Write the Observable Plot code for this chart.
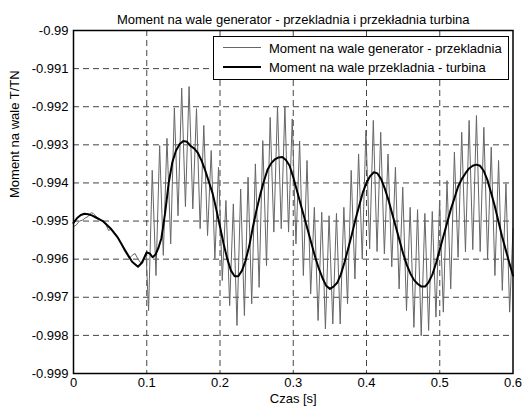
<!DOCTYPE html>
<html><head><meta charset="utf-8">
<script src="https://cdn.jsdelivr.net/npm/d3@7"></script>
<script src="https://cdn.jsdelivr.net/npm/@observablehq/plot@0.6"></script>
<style>
body{margin:0;background:#fff;}
#wrap{position:relative;width:523px;height:412px;font-family:Arial,"Liberation Sans",sans-serif;}
#legend{position:absolute;left:213px;top:36px;width:296px;height:44px;box-sizing:border-box;border:1px solid #000;background:#fff;font-size:13px;color:#000;}
.ls{position:absolute;left:9px;width:38px;}
.lt{position:absolute;left:55px;white-space:nowrap;line-height:14px;}
</style></head>
<body><div id="wrap"><div id="legend">
<div class="ls" style="top:10px;height:1px;background:#666"></div>
<div class="lt" style="top:5px">Moment na wale generator - przekladnia</div>
<div class="ls" style="top:29px;height:2px;background:#000"></div>
<div class="lt" style="top:24px">Moment na wale przekladnia - turbina</div>
</div></div>
<script>
const titleText = "Moment na wale generator - przekladnia i przekładnia turbina";
const xLabel = "Czas [s]";
const yLabel = "Moment na wale T/TN";
const xTicks = [0, 0.1, 0.2, 0.3, 0.4, 0.5, 0.6];
const xTickLabels = ["0", "0.1", "0.2", "0.3", "0.4", "0.5", "0.6"];
const yTicks = [-0.999, -0.998, -0.997, -0.996, -0.995, -0.994, -0.993, -0.992, -0.991, -0.99];
const yTickLabels = ["-0.999", "-0.998", "-0.997", "-0.996", "-0.995", "-0.994", "-0.993", "-0.992", "-0.991", "-0.99"];

// Moment na wale przekladnia - turbina (black)
const blackSeries = [
[0,-0.99505],[0.005,-0.99492],[0.01,-0.99484],[0.015,-0.99481],[0.02,-0.99482],[0.025,-0.99485],[0.03,-0.9949],
[0.04,-0.995],[0.05,-0.99518],[0.06,-0.99542],[0.07,-0.99575],[0.08,-0.99607],[0.088,-0.9962],[0.094,-0.99608],
[0.1,-0.99582],[0.104,-0.99585],[0.108,-0.99595],[0.112,-0.99588],[0.116,-0.9957],[0.12,-0.99545],[0.125,-0.9948],
[0.13,-0.994],[0.135,-0.99345],[0.14,-0.99315],[0.145,-0.99298],[0.15,-0.9929],[0.155,-0.99292],[0.16,-0.99303],
[0.165,-0.9931],[0.17,-0.99322],[0.175,-0.99342],[0.18,-0.99368],[0.185,-0.99398],[0.19,-0.99428],[0.195,-0.9947],
[0.2,-0.99515],[0.205,-0.9956],[0.21,-0.996],[0.215,-0.9963],[0.22,-0.99645],[0.225,-0.99645],[0.23,-0.9963],
[0.235,-0.99603],[0.24,-0.99565],[0.245,-0.99515],[0.25,-0.9947],[0.255,-0.9943],[0.26,-0.99395],[0.265,-0.99365],
[0.27,-0.99348],[0.275,-0.99338],[0.28,-0.99333],[0.285,-0.99332],[0.29,-0.9934],[0.295,-0.99355],[0.3,-0.99385],
[0.305,-0.9942],[0.31,-0.99455],[0.315,-0.9949],[0.32,-0.99525],[0.325,-0.9956],[0.33,-0.99595],[0.335,-0.99625],
[0.34,-0.9965],[0.345,-0.9967],[0.35,-0.99678],[0.355,-0.99672],[0.36,-0.99662],[0.365,-0.9964],[0.37,-0.99608],
[0.375,-0.99572],[0.38,-0.99535],[0.385,-0.99495],[0.39,-0.9946],[0.395,-0.99425],[0.4,-0.994],[0.405,-0.99382],
[0.41,-0.99372],[0.415,-0.99375],[0.42,-0.9939],[0.425,-0.99415],[0.43,-0.99445],[0.435,-0.9948],[0.44,-0.99515],
[0.445,-0.9955],[0.45,-0.99585],[0.455,-0.99615],[0.46,-0.99638],[0.465,-0.99655],[0.47,-0.99665],[0.475,-0.99672],
[0.48,-0.99672],[0.485,-0.9966],[0.49,-0.9964],[0.495,-0.9961],[0.5,-0.99575],[0.505,-0.9954],[0.51,-0.99505],
[0.515,-0.9947],[0.52,-0.9944],[0.525,-0.9941],[0.53,-0.9939],[0.535,-0.99375],[0.54,-0.99362],[0.545,-0.99355],
[0.55,-0.99352],[0.555,-0.99355],[0.56,-0.99368],[0.565,-0.99392],[0.57,-0.99425],[0.575,-0.9946],[0.58,-0.995],
[0.585,-0.9954],[0.59,-0.99575],[0.595,-0.9961],[0.6,-0.99643]
];

// Moment na wale generator - przekladnia (grey): start, local maxima, local minima, end
const grayStart = [
[0,-0.99515],[0.004,-0.9951],[0.008,-0.995],[0.012,-0.99498],[0.016,-0.99492],[0.02,-0.99488],[0.024,-0.99478],
[0.027,-0.9948],[0.032,-0.9949],[0.038,-0.99498],[0.044,-0.99508],[0.048,-0.99525],[0.052,-0.9952],[0.058,-0.99535],
[0.064,-0.99555],[0.07,-0.9958],[0.076,-0.99598],[0.08,-0.9959],[0.084,-0.99585],[0.088,-0.996],[0.092,-0.9961],
[0.096,-0.99595],[0.099,-0.99582]
];
const grayPeaks = [
[0.1075,-0.99367],[0.1176,-0.99302],[0.1276,-0.99283],[0.1377,-0.99203],[0.1477,-0.99151],[0.1578,-0.99147],
[0.1679,-0.99205],[0.1779,-0.99249],[0.188,-0.99315],[0.198,-0.99359],[0.2081,-0.99446],[0.2182,-0.99455],
[0.2282,-0.99416],[0.2383,-0.99385],[0.2483,-0.9935],[0.2584,-0.99289],[0.2685,-0.99228],[0.2785,-0.99199],
[0.2886,-0.99199],[0.2986,-0.99232],[0.3087,-0.9929],[0.3188,-0.99341],[0.3288,-0.99464],[0.3389,-0.99477],
[0.3489,-0.99486],[0.359,-0.9948],[0.3691,-0.99464],[0.3791,-0.99367],[0.3892,-0.99324],[0.3992,-0.99262],
[0.4093,-0.99236],[0.4194,-0.99267],[0.4294,-0.99324],[0.4395,-0.99359],[0.4495,-0.99411],[0.4596,-0.99464],
[0.4697,-0.9947],[0.4797,-0.9948],[0.4898,-0.99475],[0.4998,-0.99446],[0.5099,-0.99394],[0.52,-0.99319],
[0.53,-0.99267],[0.5401,-0.99236],[0.5501,-0.99223],[0.5602,-0.99254],[0.5703,-0.99306],[0.5803,-0.99341],
[0.5904,-0.99402]
];
const grayTroughs = [
[0.1025,-0.99735],[0.1126,-0.99643],[0.1226,-0.9959],[0.1327,-0.9956],[0.1427,-0.99486],[0.1528,-0.99462],
[0.1629,-0.99468],[0.1729,-0.9952],[0.183,-0.99538],[0.193,-0.99599],[0.2031,-0.99656],[0.2132,-0.99722],
[0.2232,-0.99774],[0.2333,-0.99748],[0.2433,-0.99717],[0.2534,-0.99674],[0.2635,-0.99617],[0.2735,-0.99529],
[0.2836,-0.9952],[0.2936,-0.99529],[0.3037,-0.9956],[0.3138,-0.99643],[0.3238,-0.99691],[0.3339,-0.99761],
[0.3439,-0.99783],[0.354,-0.9977],[0.3641,-0.9977],[0.3741,-0.99717],[0.3842,-0.99652],[0.3942,-0.996],
[0.4043,-0.99573],[0.4144,-0.9958],[0.4244,-0.99586],[0.4345,-0.9962],[0.4445,-0.99678],[0.4546,-0.99735],
[0.4647,-0.99779],[0.4747,-0.99801],[0.4848,-0.99787],[0.4948,-0.99752],[0.5049,-0.99739],[0.515,-0.99678],
[0.525,-0.99595],[0.5351,-0.99581],[0.5451,-0.99575],[0.5552,-0.9958],[0.5653,-0.99599],[0.5753,-0.99643],
[0.5854,-0.99682],[0.5954,-0.99739]
];
const grayEnd = [[0.6,-0.9952]];

const toRows = arr => arr.map(([t, v]) => ({t, v}));
const black = toRows(blackSeries);
const gray = toRows([...grayStart, ...grayPeaks, ...grayTroughs, ...grayEnd]).sort((a, b) => a.t - b.t);

const xFmt = d => xTickLabels[xTicks.indexOf(d)];
const yFmt = d => yTickLabels[yTicks.findIndex(y => Math.abs(y - d) < 1e-9)];
const gridStyle = {stroke: "#444", strokeOpacity: 1, strokeWidth: 1, strokeDasharray: "6,4"};

const chart = Plot.plot({
  width: 523, height: 412,
  marginLeft: 73, marginRight: 10.5, marginTop: 30, marginBottom: 39,
  style: {fontFamily: 'Arial, "Liberation Sans", sans-serif', fontSize: "13px", color: "#000", background: "#fff", overflow: "visible"},
  x: {domain: [0, 0.6]},
  y: {domain: [-0.999, -0.99]},
  marks: [
    Plot.gridX(xTicks.slice(1, -1), gridStyle),
    Plot.gridY(yTicks.slice(1, -1), gridStyle),
    Plot.line(gray, {x: "t", y: "v", stroke: "#666", strokeWidth: 1}),
    Plot.line(black, {x: "t", y: "v", stroke: "#000", strokeWidth: 2}),
    Plot.frame({stroke: "#000", strokeWidth: 1.5}),
    Plot.axisX(xTicks, {tickSize: 0, tickPadding: 4, tickFormat: xFmt, label: null, fontSize: 13}),
    Plot.axisY(yTicks, {tickSize: 0, tickPadding: 5, tickFormat: yFmt, label: null, fontSize: 13}),
    Plot.text([xLabel], {frameAnchor: "bottom", dy: 29, fontSize: 13}),
    Plot.text([yLabel], {frameAnchor: "left", rotate: -90, dx: -59, dy: -4, fontSize: 13}),
    Plot.text([titleText], {frameAnchor: "top", dy: -16, fontSize: 13})
  ]
});
document.getElementById("wrap").insertBefore(chart, document.getElementById("legend"));
</script>
</body></html>
